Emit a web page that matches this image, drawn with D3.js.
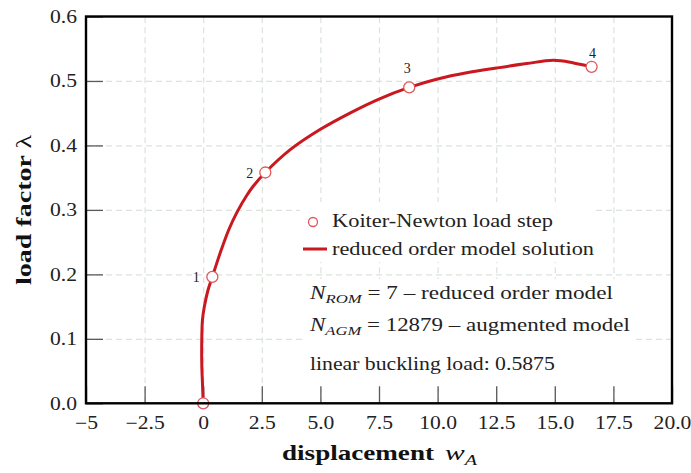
<!DOCTYPE html>
<html>
<head>
<meta charset="utf-8">
<script src="https://cdn.jsdelivr.net/npm/d3@7"></script>
<style>
  body { margin: 0; background: #fff; }
  svg { display: block; font-family: "Liberation Serif", serif; }
</style>
</head>
<body>
<div id="chart"></div>
<script>
// reduced order model solution (displacement w_A, load factor lambda)
var romX = [0, -0.03, -0.06, -0.06, -0.03, 0.05, 0.2, 0.39, 0.53, 0.79, 1.1, 1.45, 1.85, 2.14, 2.65, 3.7, 5.0, 6.3, 7.5, 8.79, 10.0, 11.3, 12.5, 13.8, 14.94, 15.8, 16.57];
var romY = [0, 0.03, 0.06, 0.1, 0.13, 0.15, 0.175, 0.196, 0.212, 0.24, 0.27, 0.297, 0.322, 0.337, 0.358, 0.393, 0.425, 0.451, 0.472, 0.490, 0.503, 0.513, 0.520, 0.527, 0.532, 0.528, 0.522];

// Koiter-Newton load steps
var stepX = [0, 0.39, 2.65, 8.79, 16.57];
var stepY = [0, 0.196, 0.358, 0.490, 0.522];
var stepLabels = ["", "1", "2", "3", "4"];

var xTickValues = [-5, -2.5, 0, 2.5, 5, 7.5, 10, 12.5, 15, 17.5, 20];
var xTickLabels = ["\u22125", "\u22122.5", "0", "2.5", "5.0", "7.5", "10.0", "12.5", "15.0", "17.5", "20.0"];
var yTickValues = [0, 0.1, 0.2, 0.3, 0.4, 0.5, 0.6];
var yTickLabels = ["0.0", "0.1", "0.2", "0.3", "0.4", "0.5", "0.6"];

var legendLabels = ["Koiter-Newton load step", "reduced order model solution"];
var linearBuckling = "0.5875";

var svgWidth = 691, svgHeight = 473;
var margin = { top: 16.5, right: 19, bottom: 69.7, left: 86 };
var width = svgWidth - margin.left - margin.right;
var height = svgHeight - margin.top - margin.bottom;

var lineColor = "#c9181f";
var markColor = "#e0585b";

var svg = d3.select("#chart").append("svg")
    .attr("width", svgWidth)
    .attr("height", svgHeight);

var chart = svg.append("g")
    .attr("transform", `translate(${margin.left}, ${margin.top})`);

var x = d3.scaleLinear().domain([-5, 20]).range([0, width]);
var y = d3.scaleLinear().domain([0, 0.6]).range([height, 0]);

// stretch text horizontally (CM fonts are wider than Liberation)
function stretch(sel, k) {
  sel.each(function() {
    var L = this.getComputedTextLength();
    d3.select(this).attr("textLength", L * k).attr("lengthAdjust", "spacingAndGlyphs");
  });
}
function fitTo(sel, w) {
  sel.attr("textLength", w).attr("lengthAdjust", "spacingAndGlyphs");
}

// grid
chart.append("g")
    .attr("transform", `translate(0, ${height})`)
    .call(d3.axisBottom(x).tickValues(xTickValues.slice(1, -1)).tickSize(-height).tickFormat(""))
    .call(g => g.select(".domain").remove())
    .call(g => g.selectAll("line").attr("stroke", "#dbe3dc").attr("stroke-width", 1.2).attr("stroke-dasharray", "6,4"));
chart.append("g")
    .call(d3.axisLeft(y).tickValues(yTickValues.slice(1, -1)).tickSize(-width).tickFormat(""))
    .call(g => g.select(".domain").remove())
    .call(g => g.selectAll("line").attr("stroke", "#dbe3dc").attr("stroke-width", 1.2).attr("stroke-dasharray", "6,4"));

// white boxes behind legend and notes
chart.append("rect").attr("x", 300 - margin.left).attr("y", 202 - margin.top)
    .attr("width", 294).attr("height", 60).attr("fill", "#fff");
chart.append("rect").attr("x", 306 - margin.left).attr("y", 279 - margin.top)
    .attr("width", 328).attr("height", 104).attr("fill", "#fff");

// axes with inward ticks
var xAxis = chart.append("g")
    .attr("transform", `translate(0, ${height})`)
    .call(d3.axisBottom(x).tickValues(xTickValues).tickSize(-17).tickPadding(13)
      .tickFormat((d, i) => xTickLabels[i]));
var yAxis = chart.append("g")
    .call(d3.axisLeft(y).tickValues(yTickValues).tickSize(-17).tickPadding(9)
      .tickFormat((d, i) => yTickLabels[i]));
[xAxis, yAxis].forEach(function(g) {
  g.select(".domain").remove();
  g.selectAll("line").attr("stroke", "#5a5a5a").attr("stroke-width", 1.3);
  g.selectAll("text").attr("font-family", "Liberation Serif").attr("font-size", 18).attr("fill", "#222");
  stretch(g.selectAll("text"), 1.2);
});

// curve
var romData = romX.map((d, i) => [d, romY[i]]);
var line = d3.line()
    .x(d => x(d[0]))
    .y(d => y(d[1]))
    .curve(d3.curveCatmullRom.alpha(0.5));

chart.append("path")
    .datum(romData)
    .attr("fill", "none")
    .attr("stroke", lineColor)
    .attr("stroke-width", 3)
    .attr("d", line);

var steps = stepX.map((d, i) => ({ x: d, y: stepY[i], label: stepLabels[i] }));

chart.selectAll(".step")
    .data(steps)
    .enter()
    .append("circle")
    .attr("class", "step")
    .attr("cx", d => x(d.x))
    .attr("cy", d => y(d.y))
    .attr("r", 5.5)
    .attr("fill", "#fff")
    .attr("stroke", markColor)
    .attr("stroke-width", 1.3);

// label placement: 1,2 to the left, 3,4 above
var labelDx = [-16, -15.5, -2, 1];
var labelDy = [5, 5.5, -14, -8.5];
chart.selectAll(".steplabel")
    .data(steps.filter(d => d.label))
    .enter()
    .append("text")
    .attr("class", "steplabel")
    .attr("x", (d, i) => x(d.x) + labelDx[i])
    .attr("y", (d, i) => y(d.y) + labelDy[i])
    .attr("text-anchor", "middle")
    .attr("font-size", 14)
    .attr("fill", "#222")
    .text(d => d.label);

// frame
chart.append("rect")
    .attr("width", width).attr("height", height)
    .attr("fill", "none").attr("stroke", "#000").attr("stroke-width", 2.4);

// legend
svg.append("circle").attr("cx", 313).attr("cy", 222).attr("r", 4.5)
    .attr("fill", "#fff").attr("stroke", markColor).attr("stroke-width", 1.3);
svg.append("line").attr("x1", 303).attr("x2", 327).attr("y1", 249).attr("y2", 249)
    .attr("stroke", lineColor).attr("stroke-width", 3);
var lg1 = svg.append("text").attr("x", 332).attr("y", 227).attr("font-size", 18).attr("fill", "#222").text(legendLabels[0]);
var lg2 = svg.append("text").attr("x", 332).attr("y", 255).attr("font-size", 18).attr("fill", "#222").text(legendLabels[1]);
fitTo(lg1, 221);
fitTo(lg2, 262);

// notes
function note(yb, sub, rest, w) {
  var t = svg.append("text").attr("x", 310).attr("y", yb).attr("font-size", 18).attr("fill", "#222");
  if (sub) {
    t.append("tspan").attr("font-style", "italic").text("N");
    t.append("tspan").attr("font-style", "italic").attr("font-size", 13).attr("dy", 4).text(sub);
    t.append("tspan").attr("dy", -4).text(rest);
  } else {
    t.text(rest);
  }
  var L = t.node().getComputedTextLength();
  t.attr("transform", `translate(310, ${yb}) scale(${w / L}, 1) translate(-310, ${-yb})`);
  return t;
}
note(299, "ROM", " = 7 \u2013 reduced order model", 303);
note(331, "AGM", " = 12879 \u2013 augmented model", 320);
note(370, null, "linear buckling load: " + linearBuckling, 245);

// axis titles
var xt = svg.append("text").attr("x", 282).attr("y", 460).attr("font-size", 22).attr("fill", "#111");
xt.append("tspan").attr("font-weight", "bold").text("displacement");
var xtw = svg.append("text").attr("x", 445).attr("y", 460).attr("font-size", 22).attr("fill", "#111");
xtw.append("tspan").attr("font-style", "italic").text("w");
xtw.append("tspan").attr("font-style", "italic").attr("font-size", 15).attr("dy", 5).text("A");
fitTo(xt, 152);
fitTo(xtw, 32);

var yt = svg.append("text")
    .attr("transform", "translate(31, 210) rotate(-90)")
    .attr("text-anchor", "middle")
    .attr("font-size", 22)
    .attr("fill", "#111");
yt.append("tspan").attr("font-weight", "bold").text("load factor ");
yt.append("tspan").text("\u03bb");
fitTo(yt, 150);
</script>
</body>
</html>
